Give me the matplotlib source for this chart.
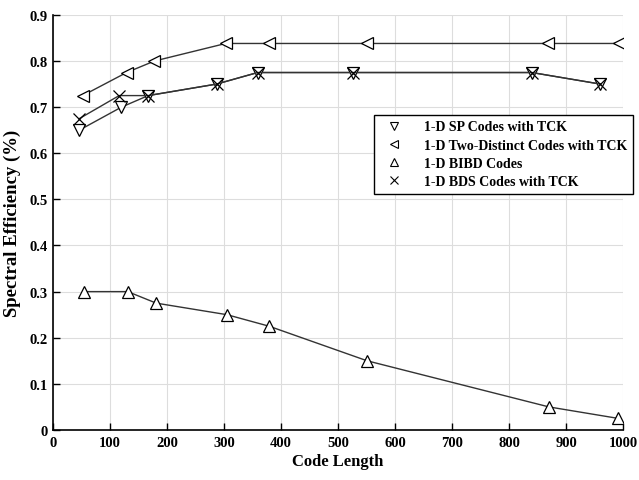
import matplotlib
matplotlib.use('Agg')
import matplotlib.pyplot as plt
from matplotlib.lines import Line2D

# values
sp_x = [46, 120, 167, 287, 359, 527, 840, 960]
sp_y = [0.65, 0.70, 0.725, 0.75, 0.775, 0.775, 0.775, 0.75]

two_x = [52, 129, 178, 303, 379, 550, 868, 993]
two_y = [0.725, 0.775, 0.80, 0.838, 0.838, 0.838, 0.838, 0.838]

bibd_x = [54, 131, 181, 305, 379, 551, 870, 992]
bibd_y = [0.30, 0.30, 0.275, 0.25, 0.225, 0.15, 0.05, 0.025]

bds_x = [46, 116, 167, 287, 359, 527, 840, 960]
bds_y = [0.675, 0.725, 0.725, 0.75, 0.775, 0.775, 0.775, 0.75]

labels = ['1-D SP Codes with TCK', '1-D Two-Distinct Codes with TCK',
          '1-D BIBD Codes', '1-D BDS Codes with TCK']
x_ticks = list(range(0, 1001, 100))
y_ticks = [0, 0.1, 0.2, 0.3, 0.4, 0.5, 0.6, 0.7, 0.8, 0.9]
y_tick_labels = ['0', '0.1', '0.2', '0.3', '0.4', '0.5', '0.6', '0.7', '0.8', '0.9']

plt.rcParams['font.family'] = ['Liberation Serif', 'DejaVu Serif']
plt.rcParams['font.weight'] = 'bold'

fig = plt.figure(figsize=(6.39, 4.81), dpi=100)
ax = fig.add_axes([0.083, 0.104, 0.892, 0.863])

line_c = '#333333'
series = [(sp_x, sp_y, 'v'), (two_x, two_y, '<'), (bibd_x, bibd_y, '^'), (bds_x, bds_y, 'x')]
for xs, ys, m in series:
    ax.plot(xs, ys, color=line_c, lw=1.0, marker=m, ms=8,
            mfc='white' if m != 'x' else line_c, mec='black', mew=0.9, zorder=3)

ax.set_xlim(0, 1000)
ax.set_ylim(0, 0.9)
ax.set_xticks(x_ticks)
ax.set_yticks(y_ticks)
ax.set_yticklabels(y_tick_labels)
ax.tick_params(direction='in', length=5, width=1, labelsize=10.5, pad=4)
for lab in ax.get_xticklabels() + ax.get_yticklabels():
    lab.set_fontweight('bold')
ax.grid(True, color='#dddddd', lw=0.8)
ax.set_axisbelow(True)
ax.spines['top'].set_visible(False)
ax.spines['right'].set_visible(False)
ax.spines['left'].set_linewidth(1.2)
ax.spines['bottom'].set_linewidth(1.2)

ax.set_xlabel('Code Length', fontsize=12, fontweight='bold', labelpad=3)
ax.set_ylabel('Spectral Efficiency (%)', fontsize=13.5, fontweight='bold', labelpad=6)

handles = [Line2D([], [], ls='None', marker=m, ms=6, mfc='white', mec='black', mew=0.8)
           for _, _, m in series]
leg = ax.legend(handles, labels, loc='upper right', bbox_to_anchor=(1.018, 0.759),
                fancybox=False, edgecolor='black', framealpha=1, fontsize=10,
                handlelength=2.0, borderpad=0.4, labelspacing=0.38, handletextpad=1.2,
                borderaxespad=0)
leg.get_frame().set_linewidth(1.0)
for t in leg.get_texts():
    t.set_fontweight('bold')

fig.savefig('out.png', dpi=100)
